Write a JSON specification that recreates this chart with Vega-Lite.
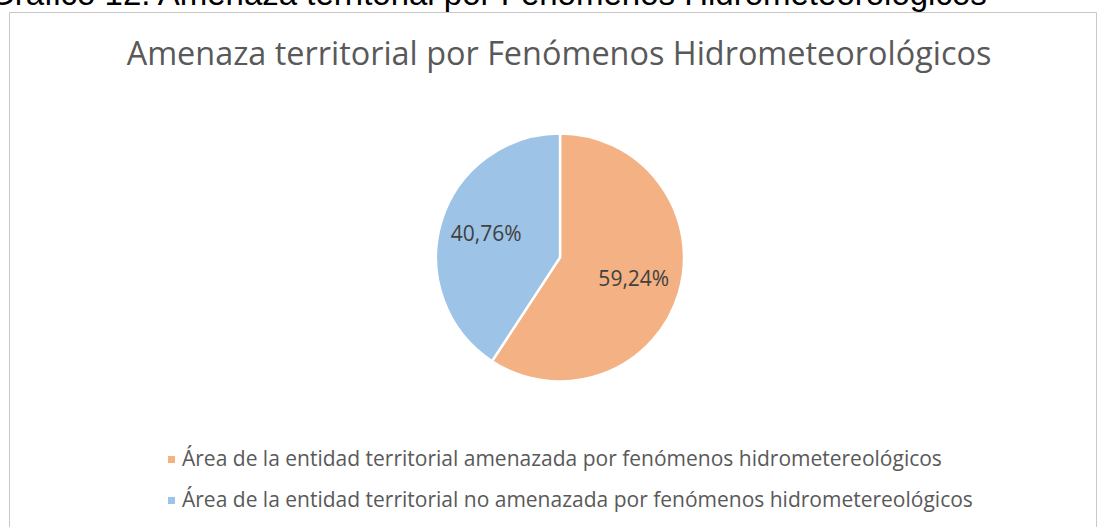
{
  "$schema": "https://vega.github.io/schema/vega-lite/v6.json",
  "width": 1087,
  "height": 515,
  "autosize": {"type": "none"},
  "padding": {"left": 9, "top": 12, "right": 1, "bottom": 0},
  "background": "#ffffff",
  "view": {"stroke": "#c8c8c8", "strokeWidth": 1, "fill": "#ffffff"},
  "config": {
    "view": {"stroke": "#c8c8c8", "strokeWidth": 1},
    "locale": {"number": {"decimal": ",", "thousands": ".", "grouping": [3], "currency": ["", " €"]}}
  },
  "title": {
    "text": "Gráfico 12. Amenaza territorial por Fenómenos Hidrometeorológicos",
    "anchor": "start",
    "frame": "group",
    "font": "Liberation Sans",
    "fontSize": 33,
    "fontWeight": "normal",
    "color": "#000000",
    "baseline": "alphabetic",
    "offset": 2,
    "dx": -20,
    "dy": 28
  },
  "layer": [
    {
      "data": {"values": [
        {"categoria": "Área de la entidad territorial amenazada por fenómenos hidrometereológicos", "valor": 0.5924},
        {"categoria": "Área de la entidad territorial no amenazada por fenómenos hidrometereológicos", "valor": 0.4076}
      ]},
      "layer": [
        {
          "mark": {"type": "arc", "outerRadius": 124, "stroke": "#ffffff", "strokeWidth": 2.5, "xOffset": 7.5, "yOffset": -12},
          "encoding": {
            "theta": {"field": "valor", "type": "quantitative", "stack": true},
            "order": {"field": "categoria", "sort": "ascending"},
            "color": {
              "field": "categoria",
              "type": "nominal",
              "scale": {"domain": ["Área de la entidad territorial amenazada por fenómenos hidrometereológicos", "Área de la entidad territorial no amenazada por fenómenos hidrometereológicos"], "range": ["#F4B183", "#9DC3E6"]},
              "legend": {
                "title": null,
                "orient": "none",
                "legendX": 152,
                "legendY": 437,
                "direction": "vertical",
                "symbolType": "square",
                "symbolSize": 50,
                "symbolStrokeWidth": 0,
                "labelFont": "Open Sans",
                "labelFontSize": 21,
                "labelColor": "#595959",
                "labelOffset": 0,
                "labelLimit": 1000,
                "rowPadding": 19
              }
            }
          }
        },
        {
          "mark": {"type": "text", "radius": 77, "font": "Open Sans", "fontSize": 21, "color": "#404040", "xOffset": 7.5, "yOffset": -12},
          "encoding": {
            "theta": {"field": "valor", "type": "quantitative", "stack": true},
            "order": {"field": "categoria", "sort": "ascending"},
            "text": {"field": "valor", "type": "quantitative", "format": ".2%"}
          }
        }
      ]
    },
    {
      "data": {"values": [{"titulo": "Amenaza territorial por Fenómenos Hidrometeorológicos"}]},
      "mark": {"type": "text", "font": "Open Sans", "fontSize": 32.4, "color": "#595959", "baseline": "alphabetic", "align": "center", "dx": 6.5, "dy": -204.5},
      "encoding": {"text": {"field": "titulo", "type": "nominal"}}
    }
  ]
}
